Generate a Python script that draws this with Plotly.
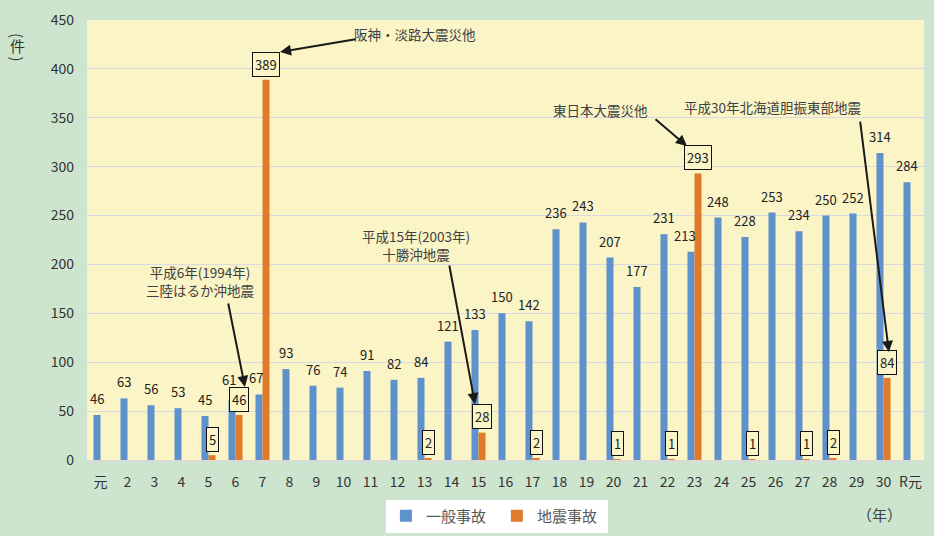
import plotly.graph_objects as go

years = ["元", "2", "3", "4", "5", "6", "7", "8", "9", "10", "11", "12", "13", "14", "15",
         "16", "17", "18", "19", "20", "21", "22", "23", "24", "25", "26", "27", "28", "29",
         "30", "R元"]
general = [46, 63, 56, 53, 45, 61, 67, 93, 76, 74, 91, 82, 84, 121, 133, 150, 142, 236,
           243, 207, 177, 231, 213, 248, 228, 253, 234, 250, 252, 314, 284]
quake = [0, 0, 0, 0, 5, 46, 389, 0, 0, 0, 0, 0, 2, 0, 28, 0, 2, 0, 0, 1, 0, 1, 293, 0,
         1, 0, 1, 2, 0, 84, 0]
yticks = [0, 50, 100, 150, 200, 250, 300, 350, 400, 450]

# event notes: (text, text x index, text y, arrow tail x, tail y, head x, head y)
events = [
    ("阪神・淡路大震災他", 11.63, 436, 9.5, 430.6, 6.65, 417.3),
    ("平成6年(1994年)<br>三陸はるか沖地震", 3.69, 183, 4.72, 161.6, 5.35, 74.7),
    ("平成15年(2003年)<br>十勝沖地震", 11.69, 220, 12.91, 200.5, 13.87, 57.3),
    ("東日本大震災他", 18.5, 358, 20.5, 349.8, 21.72, 321.1),
    ("平成30年北海道胆振東部地震", 24.89, 361, 28.13, 347.7, 29.2, 110.5),
]

# manual nudges (pixels) of a few general-accident labels, as in the original
label_nudge = {5: (-3, 4), 6: (-3, 0), 22: (-6, 0)}

FONT = "Noto Sans CJK JP"
BLUE = "#5F91CC"
ORANGE = "#E07B2C"
PLOT_BG = "#FAF4C6"
idx = list(range(len(years)))

fig = go.Figure()
fig.add_trace(go.Bar(x=idx, y=general, name="一般事故", marker_color=BLUE,
                     marker_line_width=0))
fig.add_trace(go.Bar(x=idx, y=quake, name="地震事故", marker_color=ORANGE,
                     marker_line_width=0))

ann = []
half = 0.13
for i, v in enumerate(general):
    dx, dy = label_nudge.get(i, (0, 0))
    ann.append(dict(x=i - half, y=v, xref="x", yref="y", text=str(v), showarrow=False,
                    yanchor="bottom", yshift=5 + dy, xshift=dx,
                    font=dict(family=FONT, size=13, color="#222222")))
for i, v in enumerate(quake):
    if v > 0:
        ann.append(dict(x=i + half, y=max(v + 16, 17), xref="x", yref="y", text=str(v),
                        showarrow=False, yanchor="middle", bordercolor="#111111",
                        borderwidth=1, borderpad=2, bgcolor=PLOT_BG,
                        font=dict(family=FONT, size=13, color="#222222")))
for t, tx, ty, ax, ay, hx, hy in events:
    ann.append(dict(x=tx, y=ty, xref="x", yref="y", text=t, showarrow=False,
                    font=dict(family=FONT, size=13.5, color="#404040")))
    ann.append(dict(x=hx, y=hy, xref="x", yref="y", ax=ax, ay=ay, axref="x", ayref="y",
                    text="", showarrow=True, arrowhead=2, arrowsize=1.1, arrowwidth=2,
                    arrowcolor="#1a1a1a"))

# y-axis unit (vertical): rotated parentheses around 件
for ch, py, ang in (("(", 0.966, 90), ("件", 0.941, 0), (")", 0.9125, 90)):
    ann.append(dict(x=-0.0836, y=py, xref="paper", yref="paper", text=ch, showarrow=False,
                    xanchor="center", yanchor="middle", textangle=ang,
                    font=dict(family=FONT, size=15, color="#333333")))
# x-axis unit
ann.append(dict(x=0.947, y=-0.123, xref="paper", yref="paper", text="（年）",
                xanchor="center", yanchor="middle", showarrow=False,
                font=dict(family=FONT, size=15, color="#404040")))

fig.update_layout(
    width=934, height=536,
    margin=dict(l=87, r=10, t=20, b=76, autoexpand=False),
    paper_bgcolor="#CDE5CE",
    plot_bgcolor=PLOT_BG,
    barmode="group", bargap=0.48, bargroupgap=0,
    font=dict(family=FONT, size=13, color="#333333"),
    showlegend=True,
    legend=dict(orientation="h", xref="container", yref="container",
                x=0.532, xanchor="center", y=0.0373, yanchor="middle",
                bgcolor="#FFFFFF", font=dict(family=FONT, size=15, color="#595959"),
                entrywidth=66, itemwidth=30),
    annotations=ann,
)
fig.update_xaxes(range=[-0.5, len(years) - 0.5], tickvals=idx, ticktext=years,
                 showgrid=False, zeroline=False, showline=True, linecolor="#D9D9D9",
                 linewidth=2, ticks="", ticklabelstandoff=8, automargin=False,
                 tickfont=dict(family=FONT, size=14, color="#333333"), fixedrange=True)
fig.update_yaxes(range=[0, 450], tickvals=yticks, showgrid=True, gridcolor="#D8DAE3",
                 gridwidth=1, zeroline=False, ticks="", ticklabelstandoff=12,
                 automargin=False,
                 tickfont=dict(family=FONT, size=14, color="#333333"), fixedrange=True)

fig.write_html("out.html", config={"displayModeBar": False},
               post_script="document.body.style.margin='0px';"
                           "document.body.style.overflow='hidden';")
